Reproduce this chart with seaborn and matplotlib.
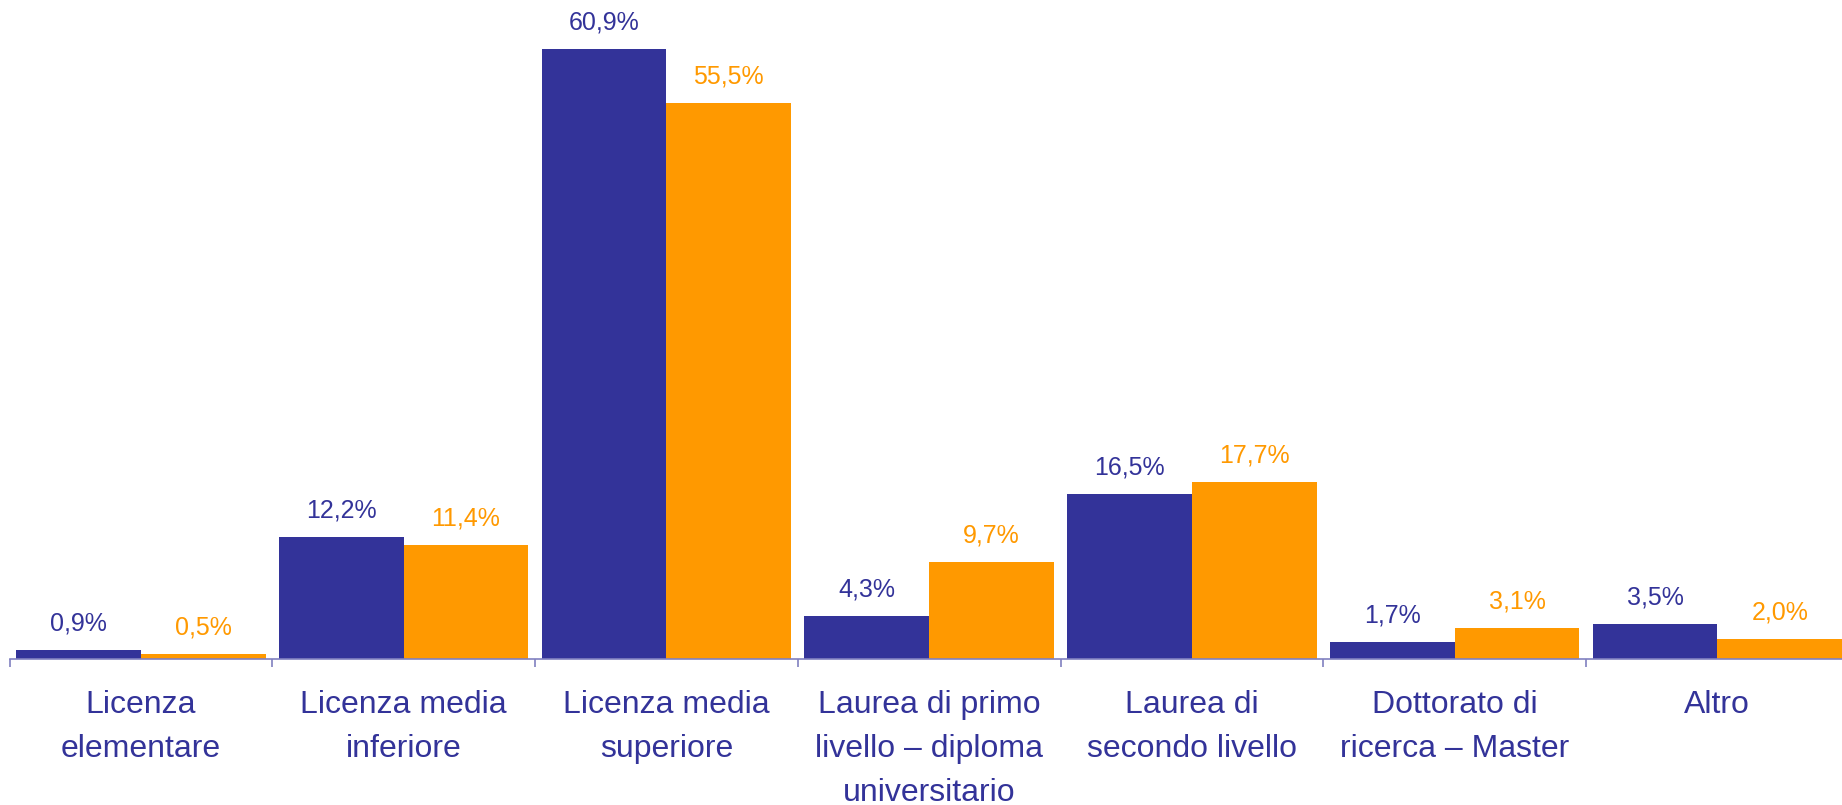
import pandas as pd
import matplotlib
matplotlib.use("Agg")
import matplotlib.pyplot as plt
import seaborn as sns

categories = [
    "Licenza\nelementare",
    "Licenza media\ninferiore",
    "Licenza media\nsuperiore",
    "Laurea di primo\nlivello – diploma\nuniversitario",
    "Laurea di\nsecondo livello",
    "Dottorato di\nricerca – Master",
    "Altro",
]
series_names = ["Serie 1", "Serie 2"]
values_1 = [0.9, 12.2, 60.9, 4.3, 16.5, 1.7, 3.5]
values_2 = [0.5, 11.4, 55.5, 9.7, 17.7, 3.1, 2.0]

BLUE = "#333399"
ORANGE = "#FF9900"
AXIS_COL = "#8080c0"

df = pd.DataFrame({
    "categoria": categories * 2,
    "serie": [series_names[0]] * len(categories) + [series_names[1]] * len(categories),
    "valore": values_1 + values_2,
})

sns.set_style("white")
plt.rcParams["font.family"] = ["Liberation Sans", "DejaVu Sans"]

fig = plt.figure(figsize=(18.42, 8.05), dpi=100)
ax = fig.add_axes([9.5 / 1842, 146 / 805, 7 * 262.75 / 1842, 659 / 805])

sns.barplot(data=df, x="categoria", y="valore", hue="serie",
            palette=[BLUE, ORANGE], width=0.95, gap=0, saturation=1,
            linewidth=0, legend=False, ax=ax)

# value labels
for container, col in zip(ax.containers, [BLUE, ORANGE]):
    for bar in container:
        h = bar.get_height()
        ax.annotate(f"{h:.1f}%".replace(".", ","),
                    (bar.get_x() + bar.get_width() / 2, h),
                    xytext=(0, 14), textcoords="offset points",
                    ha="center", va="baseline", fontsize=18, color=col)

ax.set_xlim(-0.5, len(categories) - 0.5)
ax.set_ylim(0, 65.8)
ax.set_xlabel("")
ax.set_ylabel("")
ax.set_yticks([])

for s in ["top", "right", "left"]:
    ax.spines[s].set_visible(False)
ax.spines["bottom"].set_color(AXIS_COL)
ax.spines["bottom"].set_linewidth(1.2)

ax.set_xticks(range(len(categories)))
ax.set_xticklabels(categories, fontsize=23, color=BLUE)
for t in ax.get_xticklabels():
    t.set_linespacing(1.62)
ax.tick_params(axis="x", which="major", length=0, pad=22)
ax.set_xticks([i - 0.5 for i in range(len(categories) + 1)], minor=True)
ax.tick_params(axis="x", which="minor", length=6, width=1.2, color=AXIS_COL,
               direction="out", bottom=True)

fig.savefig("out.png", dpi=100)
